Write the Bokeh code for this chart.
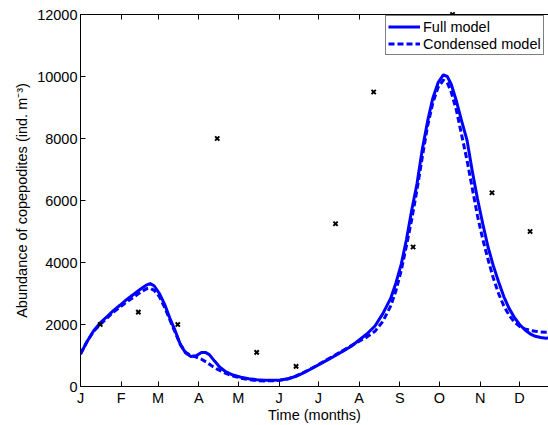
from bokeh.plotting import figure
from bokeh.models import Range1d, FixedTicker, LinearAxis, Legend, LegendItem
from bokeh.embed import file_html
from bokeh.resources import INLINE

# ---- data ----
month_ticks = [0, 31, 59, 90, 120, 151, 181, 212, 243, 273, 304, 334]
month_labels = ["J", "F", "M", "A", "M", "J", "J", "A", "S", "O", "N", "D"]
y_ticks = [0, 2000, 4000, 6000, 8000, 10000, 12000]

full_day = [0, 5, 10, 15, 20, 25, 30, 35, 40, 45, 50, 53, 56, 60, 64, 68, 72, 76, 80, 84,
            88, 92, 95, 98, 102, 106, 110, 116, 122, 128, 134, 140, 146, 152, 158, 164, 170,
            176, 182, 188, 194, 200, 206, 212, 218, 224, 230, 236, 240, 244, 248, 252, 256,
            260, 264, 268, 272, 276, 279, 282, 286, 290, 294, 298, 302, 306, 310, 314, 318,
            322, 326, 330, 334, 338, 342, 346, 350, 354, 358, 362]
full_val = [1050, 1450, 1800, 2050, 2250, 2450, 2620, 2800, 2960, 3120, 3270, 3320, 3250,
            3000, 2650, 2200, 1800, 1350, 1080, 970, 990, 1100, 1100, 1030, 820, 620, 490,
            370, 300, 250, 220, 205, 200, 210, 250, 330, 450, 580, 720, 860, 1000, 1150, 1300,
            1500, 1700, 1950, 2350, 2850, 3350, 3950, 4750, 5700, 6550, 7650, 8550, 9300,
            9800, 10050, 10000, 9750, 9200, 8550, 7950, 6950, 6050, 5250, 4500, 3900, 3380,
            2900, 2520, 2230, 2000, 1830, 1700, 1620, 1580, 1560, 1570, 1600]

cond_day = [0, 5, 10, 15, 20, 25, 30, 35, 40, 45, 50, 53, 56, 60, 64, 68, 72, 76, 80, 84,
            88, 92, 96, 100, 104, 108, 112, 116, 122, 128, 134, 140, 146, 152, 158, 164, 170,
            176, 182, 188, 194, 200, 206, 212, 218, 224, 230, 236, 240, 244, 248, 252, 256,
            260, 264, 268, 272, 276, 279, 282, 286, 290, 294, 298, 302, 306, 310, 314, 318,
            322, 326, 330, 334, 338, 342, 346, 350, 354, 358, 362]
cond_val = [1050, 1450, 1780, 2000, 2200, 2400, 2560, 2720, 2870, 3020, 3150, 3170, 3100,
            2900, 2550, 2150, 1750, 1350, 1100, 1000, 950, 880, 780, 660, 560, 470, 400, 340,
            270, 220, 190, 180, 185, 205, 250, 340, 460, 590, 730, 880, 1020, 1170, 1320,
            1460, 1600, 1780, 2100, 2600, 3100, 3750, 4550, 5400, 6350, 7400, 8400, 9150,
            9650, 9880, 9800, 9500, 8900, 8100, 7300, 6400, 5500, 4750, 4100, 3500, 3000,
            2600, 2300, 2080, 1940, 1860, 1810, 1780, 1760, 1750, 1750, 1750]

obs_day = [15, 44, 74, 104, 134, 164, 194, 223, 253, 283, 313, 342]
obs_val = [2000, 2400, 2000, 8000, 1100, 650, 5250, 9500, 4500, 12000, 6250, 5000]

FONT = "Liberation Sans"
FS = "14.5px"

p = figure(width=548, height=425, output_backend="svg", toolbar_location=None,
           x_range=Range1d(0, 356), y_range=Range1d(0, 12000),
           min_border_left=80, min_border_right=0, min_border_top=14, min_border_bottom=0,
           background_fill_color="white", border_fill_color="white")
p.outline_line_color = None
p.xgrid.visible = False
p.ygrid.visible = False

r_full = p.line(full_day, full_val, line_color="#0000ff", line_width=3, line_join="round")
r_cond = p.line(cond_day, cond_val, line_color="#0000ff", line_width=3, line_dash="6 3",
                line_join="round")
p.scatter(obs_day, obs_val, marker="x", size=6, line_color="black", line_width=2,
          level="overlay")

def style_axis(ax):
    ax.axis_line_color = "black"
    ax.axis_line_width = 1
    ax.major_tick_line_color = "black"
    ax.major_tick_in = 5
    ax.major_tick_out = 0
    ax.minor_tick_line_color = None
    ax.major_label_text_font = FONT
    ax.major_label_text_font_size = FS
    ax.major_label_text_color = "black"
    ax.axis_label_text_font = FONT
    ax.axis_label_text_font_size = FS
    ax.axis_label_text_font_style = "normal"
    ax.axis_label_text_color = "black"

xa = p.xaxis[0]
xa.ticker = FixedTicker(ticks=month_ticks)
xa.major_label_overrides = {t: l for t, l in zip(month_ticks, month_labels)}
xa.axis_label = "Time (months)"
style_axis(xa)
xa.major_label_standoff = 3
xa.axis_label_standoff = -2

ya = p.yaxis[0]
ya.ticker = FixedTicker(ticks=y_ticks)
ya.axis_label = "Abundance of copepodites (ind. m\u207b\u00b3)"
style_axis(ya)
ya.major_label_standoff = 3
ya.axis_label_standoff = 4

top = LinearAxis(ticker=FixedTicker(ticks=month_ticks))
style_axis(top)
top.major_label_text_color = None
top.major_label_text_font_size = "1px"
top.major_label_standoff = 0
p.add_layout(top, "above")

legend = Legend(items=[LegendItem(label="Full model", renderers=[r_full]),
                       LegendItem(label="Condensed model", renderers=[r_cond])],
                location=(305, 331))
legend.label_text_font = FONT
legend.label_text_font_size = FS
legend.label_text_color = "black"
legend.border_line_color = "black"
legend.border_line_width = 1
legend.padding = 2
legend.spacing = 0
legend.margin = 0
legend.glyph_width = 32
legend.glyph_height = 17
legend.label_height = 17
legend.label_standoff = 3
legend.background_fill_alpha = 1
p.add_layout(legend, "center")

open("out.html", "w").write(file_html(p, INLINE))
